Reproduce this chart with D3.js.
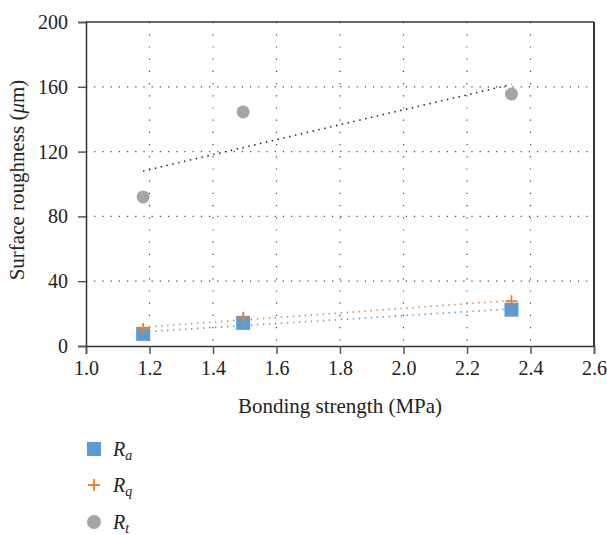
<!DOCTYPE html>
<html>
<head>
<meta charset="utf-8">
<script src="https://cdn.jsdelivr.net/npm/d3@7"></script>
</head>
<body style="margin:0; background:#fff">
<script>
const strength = [1.18, 1.495, 2.34];
const ra = [7.5, 14.3, 22.4];
const rq = [10.5, 17.5, 27.7];
const rt = [92, 144.5, 155.5];
const xTicks = [1.0, 1.2, 1.4, 1.6, 1.8, 2.0, 2.2, 2.4, 2.6];
const yTicks = [0, 40, 80, 120, 160, 200];

const FONT = "'Liberation Serif'";
const W = 607, H = 535;
const margin = {top: 22, right: 13, bottom: 189, left: 86};
const width = W - margin.left - margin.right,
      height = H - margin.top - margin.bottom;

const svg = d3.select("body").append("svg")
    .attr("width", W)
    .attr("height", H);

const g = svg.append("g")
    .attr("transform", `translate(${margin.left},${margin.top})`);

const x = d3.scaleLinear().domain([1.0, 2.6]).range([0, width]);
const y = d3.scaleLinear().domain([0, 200]).range([height, 0]);

// grid
g.selectAll(".vgrid")
  .data(xTicks.slice(1, -1))
  .enter().append("line")
    .attr("x1", d => x(d)).attr("x2", d => x(d))
    .attr("y1", 0).attr("y2", height)
    .attr("stroke", "#444").attr("stroke-width", 1.2)
    .attr("stroke-dasharray", "1.2,11");

g.selectAll(".hgrid")
  .data(yTicks.slice(1, -1))
  .enter().append("line")
    .attr("x1", 0).attr("x2", width)
    .attr("y1", d => y(d)).attr("y2", d => y(d))
    .attr("stroke", "#444").attr("stroke-width", 1.2)
    .attr("stroke-dasharray", "1.2,7");

// axes
const xAxis = g.append("g")
    .attr("transform", `translate(0,${height})`)
    .call(d3.axisBottom(x).tickValues(xTicks).tickFormat(d3.format(".1f")).tickSizeOuter(0).tickSize(8).tickPadding(7));
const yAxis = g.append("g")
    .call(d3.axisLeft(y).tickValues(yTicks).tickFormat(d3.format("d")).tickSizeOuter(0).tickSize(8).tickPadding(10));

[xAxis, yAxis].forEach(a => {
  a.attr("font-family", FONT).attr("font-size", 20);
  a.select(".domain").attr("stroke", "#333").attr("stroke-width", 1.5);
  a.selectAll(".tick line").attr("stroke", "#555").attr("stroke-width", 1.5);
  a.selectAll(".tick text")
    .style("font-family", FONT).style("font-size", "20px").attr("fill", "#222");
});

// frame top and right
g.append("line").attr("x1", 0).attr("x2", width).attr("y1", 0).attr("y2", 0)
  .attr("stroke", "#333").attr("stroke-width", 1.5);
g.append("line").attr("x1", width).attr("x2", width).attr("y1", 0).attr("y2", height)
  .attr("stroke", "#333").attr("stroke-width", 2);

// trend lines (least squares)
function fit(xs, ys) {
  const mx = d3.mean(xs), my = d3.mean(ys);
  const sxy = d3.sum(xs, (v, i) => (v - mx) * (ys[i] - my));
  const sxx = d3.sum(xs, v => (v - mx) * (v - mx));
  const b = sxy / sxx;
  const a = my - b * mx;
  const x0 = d3.min(xs), x1 = d3.max(xs);
  return [[x0, a + b * x0], [x1, a + b * x1]];
}

const line = d3.line().x(d => x(d[0])).y(d => y(d[1]));

const series = [
  {key: "a", vals: ra, color: "#5b9bd5"},
  {key: "q", vals: rq, color: "#ed7d31"},
  {key: "t", vals: rt, color: "#a5a5a5"}
];

series.forEach(s => {
  g.append("path")
    .datum(fit(strength, s.vals))
    .attr("fill", "none")
    .attr("stroke", s.key === "t" ? "#222" : s.color)
    .attr("stroke-width", 1.6)
    .attr("stroke-dasharray", "1.4,4.6")
    .attr("d", line);
});

// markers
const pts = vals => strength.map((v, i) => [v, vals[i]]);

g.selectAll(".ra")
  .data(pts(ra))
  .enter().append("rect")
    .attr("x", d => x(d[0]) - 7).attr("y", d => y(d[1]) - 7)
    .attr("width", 14).attr("height", 14)
    .attr("fill", "#5b9bd5");

g.selectAll(".rt")
  .data(pts(rt))
  .enter().append("circle")
    .attr("cx", d => x(d[0])).attr("cy", d => y(d[1]))
    .attr("r", 6.5)
    .attr("fill", "#a5a5a5");

const plus = d => `M${x(d[0]) - 6},${y(d[1])}h12M${x(d[0])},${y(d[1]) - 6}v12`;
g.selectAll(".rq")
  .data(pts(rq))
  .enter().append("path")
    .attr("d", plus)
    .attr("stroke", "#ed7d31")
    .attr("stroke-width", 1.8)
    .attr("fill", "none");

// axis titles
svg.append("text")
  .attr("x", margin.left + width / 2)
  .attr("y", 413)
  .attr("text-anchor", "middle")
  .attr("fill", "#222")
  .style("font-family", FONT)
  .style("font-size", "21px")
  .text("Bonding strength (MPa)");

const yt = svg.append("text")
  .attr("transform", `translate(24,180) rotate(-90)`)
  .attr("text-anchor", "middle")
  .attr("fill", "#222")
  .style("font-family", FONT)
  .style("font-size", "21px");
yt.append("tspan").text("Surface roughness (");
yt.append("tspan").style("font-style", "italic").text("μ");
yt.append("tspan").text("m)");

// legend
const legend = svg.append("g").attr("transform", "translate(94,0)");
const ly = [449, 485, 522];
series.forEach((s, i) => {
  const row = legend.append("g").attr("transform", `translate(0,${ly[i]})`);
  if (s.key === "a") {
    row.append("rect").attr("x", -7).attr("y", -7).attr("width", 14).attr("height", 14).attr("fill", s.color);
  } else if (s.key === "q") {
    row.append("path").attr("d", "M-6,0h12M0,-6v12").attr("stroke", s.color).attr("stroke-width", 1.8);
  } else {
    row.append("circle").attr("r", 7).attr("fill", s.color);
  }
  const t = row.append("text").attr("x", 19).attr("y", 7)
    .attr("fill", "#222")
    .style("font-family", FONT)
    .style("font-size", "20px").style("font-style", "italic");
  t.append("tspan").text("R");
  t.append("tspan").attr("dy", 4).style("font-size", "14px").text(s.key);
});
</script>
</body>
</html>
